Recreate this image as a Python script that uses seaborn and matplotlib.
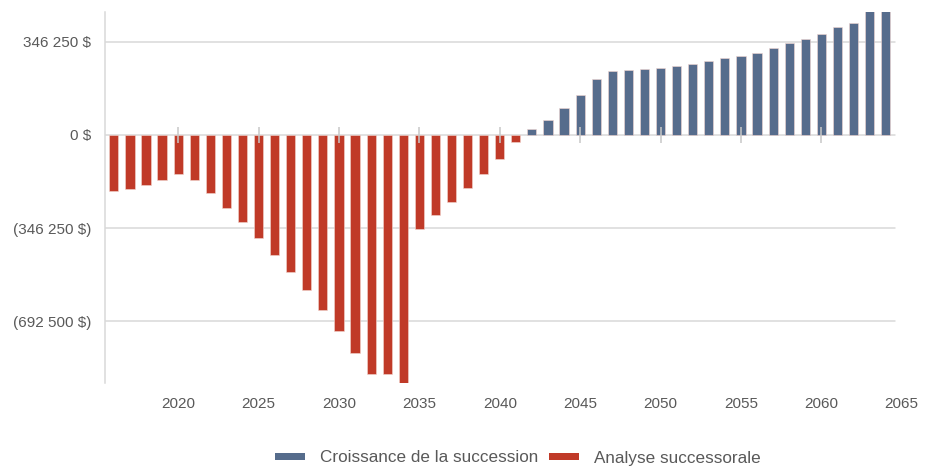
import matplotlib
matplotlib.use("Agg")
import matplotlib.pyplot as plt
from matplotlib.ticker import FuncFormatter
import seaborn as sns
import pandas as pd

# Data
years_analyse = list(range(2016, 2042))
analyse = [-208500, -202200, -187300, -168700, -144000, -168700, -217100,
           -270600, -325100, -383500, -448000, -510000, -578300, -651500,
           -729700, -811600, -889800, -889800, -935000, -348700, -299100,
           -250700, -197300, -144000, -90600, -27300]
years_croissance = list(range(2042, 2065))
croissance = [21100, 55800, 99300, 147700, 207200, 237000, 240700, 245700,
              250700, 255600, 265600, 274300, 285500, 294100, 304000, 322600,
              343800, 357400, 377200, 400800, 415700, 475000, 475000]

series_names = ["Croissance de la succession", "Analyse successorale"]
colors = ["#566c8c", "#c03a28"]
y_ticks = [-692500, -346250, 0, 346250]
x_ticks = list(range(2020, 2070, 5))

df = pd.concat([
    pd.DataFrame({"annee": years_croissance, "valeur": croissance, "serie": series_names[0]}),
    pd.DataFrame({"annee": years_analyse, "valeur": analyse, "serie": series_names[1]}),
])

sns.set_style("white")
plt.rcParams["font.family"] = ["Liberation Sans", "DejaVu Sans"]
text_color = "#595959"
grid_color = "#d9d9d9"

fig = plt.figure(figsize=(9.32, 4.66), dpi=100)
ax = fig.add_axes([105 / 932, 1 - 383.3 / 466, (901.9 - 105) / 932, (383.3 - 12) / 466])

sns.barplot(data=df, x="annee", y="valeur", hue="serie", hue_order=series_names,
            palette=colors, dodge=False, native_scale=True, width=0.57,
            edgecolor="#f2d6d0", linewidth=0.4, saturation=1, ax=ax, zorder=2)

x_left, x_right, x_grid_end = 2015.45, 2065.01, 2064.57
ax.set_xlim(x_left, x_right)
ax.set_ylim(-924400, 457900)

# gridlines stop where the plot area ends (last tick label hangs past it)
frac = (x_grid_end - x_left) / (x_right - x_left)
for yv in y_ticks:
    ax.axhline(yv, xmin=0, xmax=frac, color=grid_color, lw=1.1, zorder=1)

# tick marks sit on the zero line
inside = [t for t in x_ticks if t < x_grid_end]
ax.plot(inside, [0] * len(inside), ls="none", marker="|", ms=11,
        mew=1.1, color="#c8c8c8", zorder=3)

ax.set_xticks(x_ticks)
ax.set_xticklabels([str(t) for t in x_ticks])
ax.set_yticks(y_ticks)
ax.yaxis.set_major_formatter(FuncFormatter(
    lambda v, p: f"{abs(int(v)):,} $".replace(",", " ") if v >= 0
    else f"({abs(int(v)):,} $)".replace(",", " ")))
ax.tick_params(axis="x", length=0, pad=10, labelsize=11, labelcolor=text_color)
ax.tick_params(axis="y", length=0, pad=10, labelsize=11, labelcolor=text_color)
ax.set_xlabel("")
ax.set_ylabel("")

for side in ["top", "right", "bottom"]:
    ax.spines[side].set_visible(False)
ax.spines["left"].set_color(grid_color)
ax.spines["left"].set_linewidth(1.1)
ax.spines["left"].set_bounds(-924400, 457900)

sns.move_legend(ax, "center", bbox_to_anchor=((518 - 105) / (901.9 - 105), (383.3 - 458) / 371.3),
                ncol=2, frameon=False, title=None, fontsize=12.3,
                handlelength=1.75, handleheight=0.25, handletextpad=0.9,
                columnspacing=0.6)
for t in ax.get_legend().get_texts():
    t.set_color(text_color)
for h in ax.get_legend().legend_handles:
    h.set_edgecolor("none")

fig.savefig("out.png", dpi=100)
